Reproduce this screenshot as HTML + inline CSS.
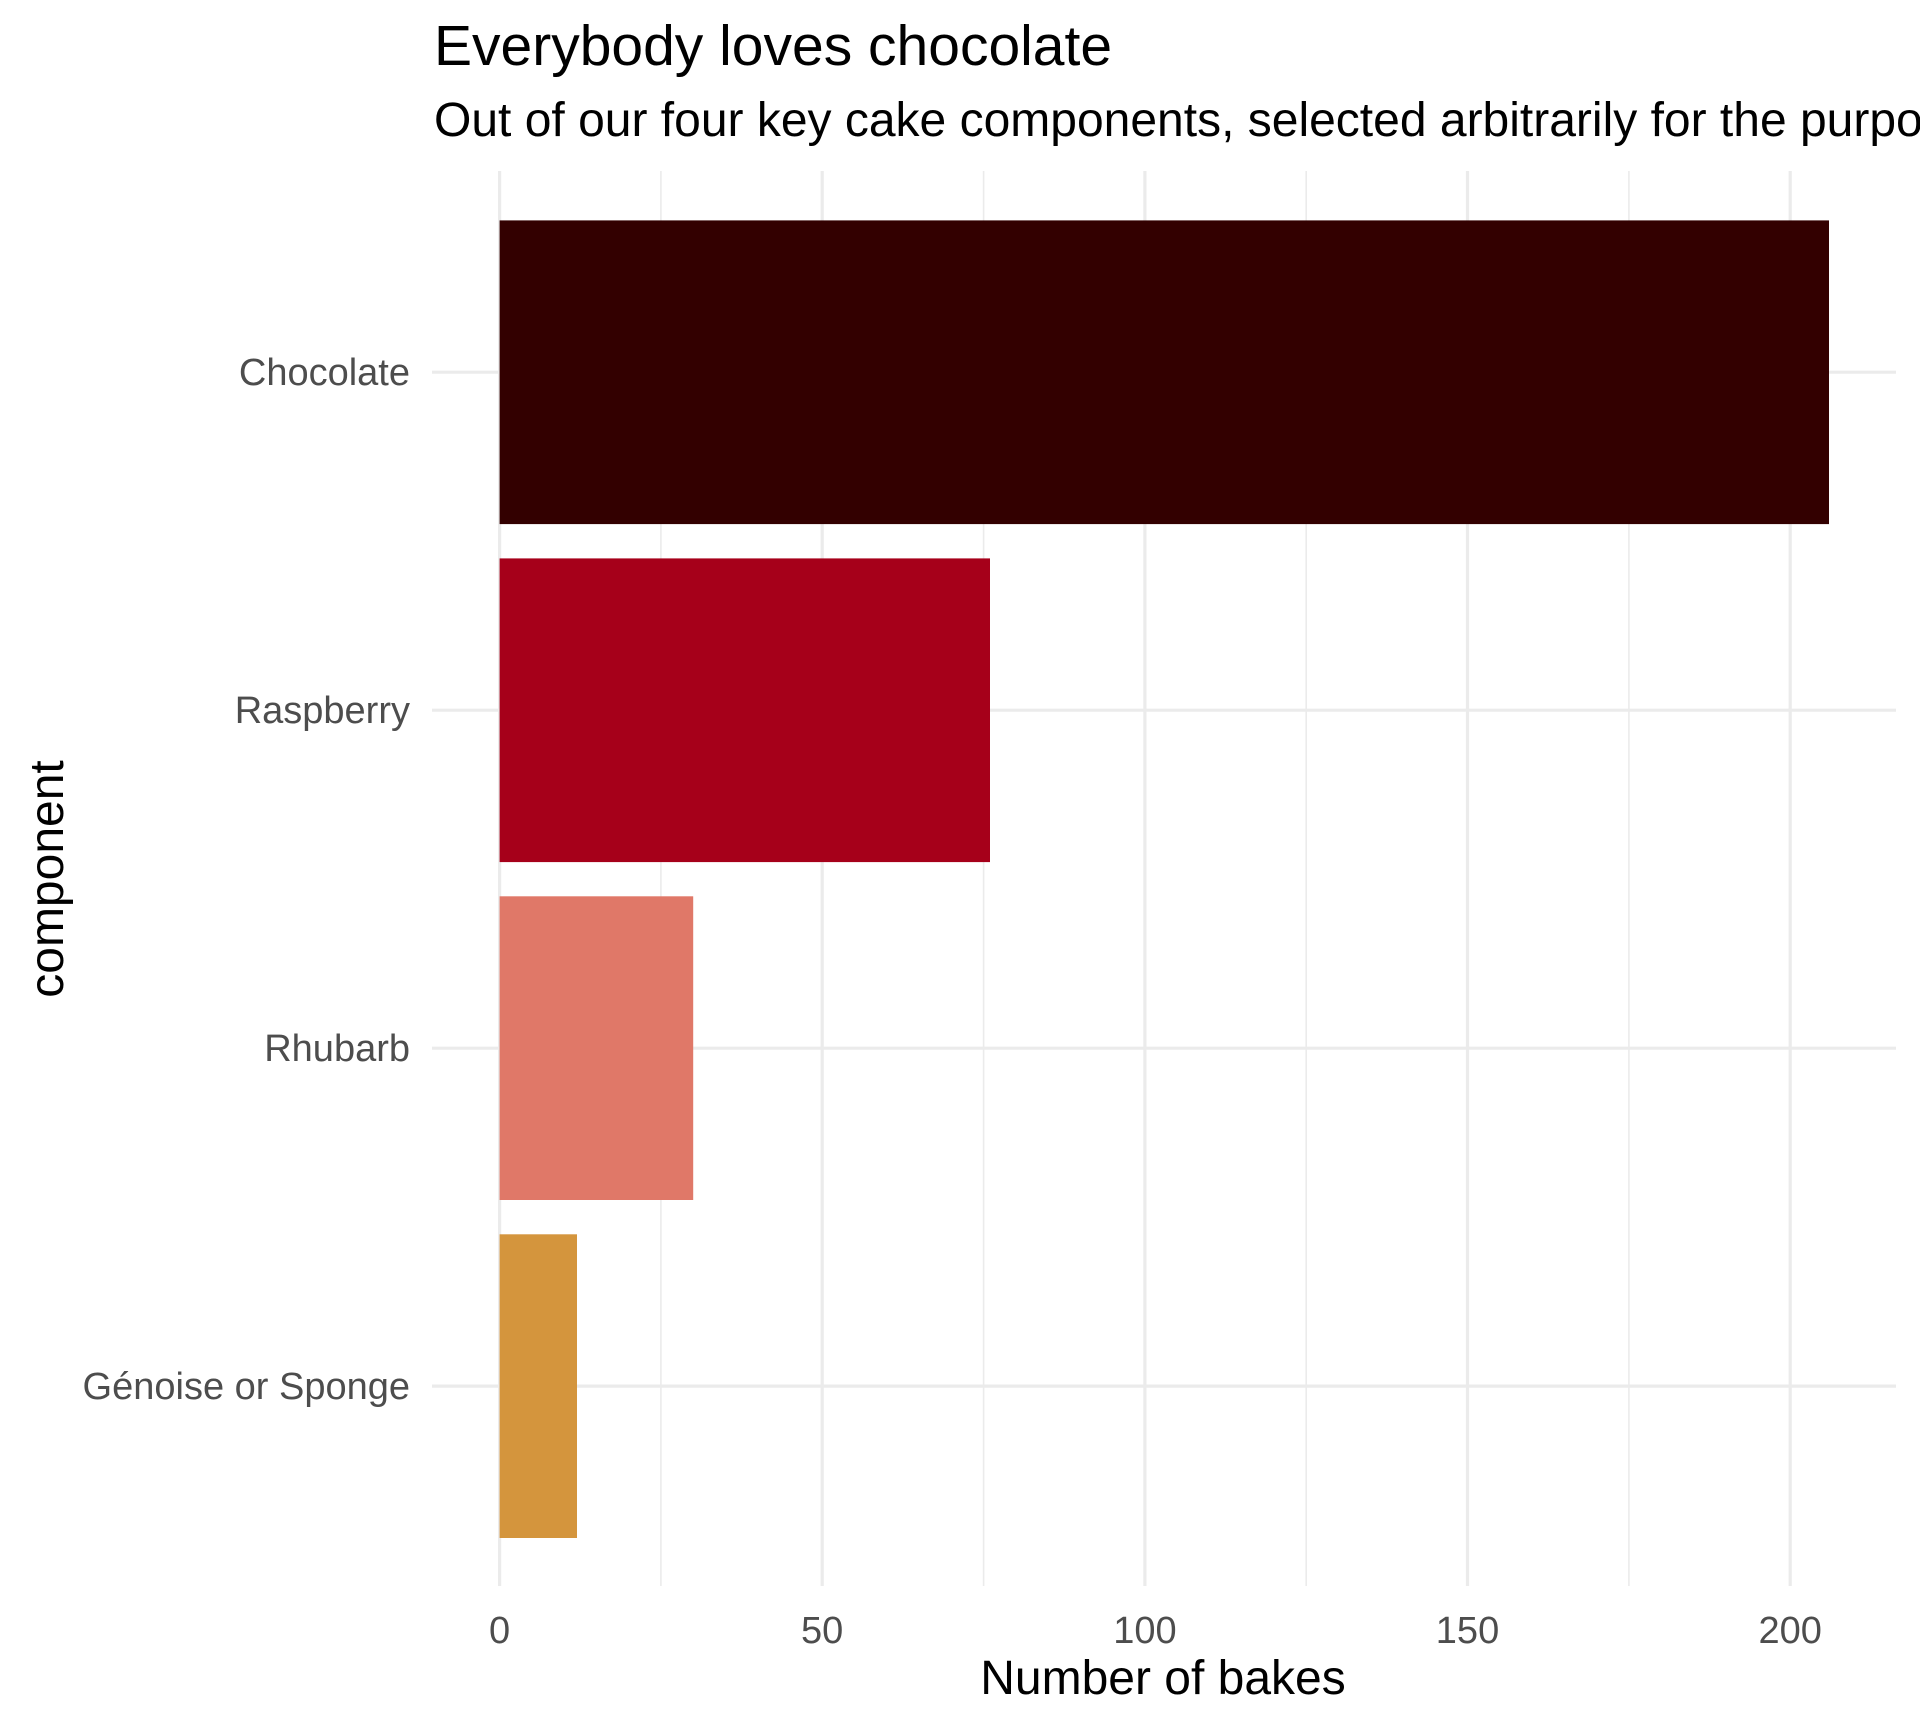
<!DOCTYPE html>
<html><head><meta charset="utf-8"><style>html,body{margin:0;padding:0;background:#fff;overflow:hidden}</style></head>
<body>
<svg width="1920" height="1728" xmlns="http://www.w3.org/2000/svg" font-family="Liberation Sans, Arial, sans-serif">
<rect width="1920" height="1728" fill="#fff"/>
<g stroke="#ebebeb" stroke-width="1.6">
<line x1="660.9" y1="171" x2="660.9" y2="1586"/>
<line x1="983.6" y1="171" x2="983.6" y2="1586"/>
<line x1="1306.2" y1="171" x2="1306.2" y2="1586"/>
<line x1="1628.9" y1="171" x2="1628.9" y2="1586"/>
</g>
<g stroke="#ebebeb" stroke-width="3.2">
<line x1="499.6" y1="171" x2="499.6" y2="1586"/>
<line x1="822.2" y1="171" x2="822.2" y2="1586"/>
<line x1="1144.9" y1="171" x2="1144.9" y2="1586"/>
<line x1="1467.5" y1="171" x2="1467.5" y2="1586"/>
<line x1="1790.2" y1="171" x2="1790.2" y2="1586"/>
<line x1="432" y1="372.2" x2="1896" y2="372.2"/>
<line x1="432" y1="710.2" x2="1896" y2="710.2"/>
<line x1="432" y1="1048.2" x2="1896" y2="1048.2"/>
<line x1="432" y1="1386.1" x2="1896" y2="1386.1"/>
</g>
<rect x="499.6" y="220.4" width="1329.4" height="303.7" fill="#330000"/>
<rect x="499.6" y="558.4" width="490.4" height="303.7" fill="#a6001a"/>
<rect x="499.6" y="896.3" width="193.6" height="303.7" fill="#e07868"/>
<rect x="499.6" y="1234.3" width="77.4" height="303.7" fill="#d4953d"/>
<g font-size="38" fill="#4d4d4d" text-anchor="end">
<text x="410" y="385">Chocolate</text>
<text x="410" y="723">Raspberry</text>
<text x="410" y="1061">Rhubarb</text>
<text x="410" y="1399">Génoise or Sponge</text>
</g>
<g font-size="38" fill="#4d4d4d" text-anchor="middle">
<text x="499.6" y="1643">0</text>
<text x="822.2" y="1643">50</text>
<text x="1144.9" y="1643">100</text>
<text x="1467.5" y="1643">150</text>
<text x="1790.2" y="1643">200</text>
</g>
<text x="1163" y="1694" font-size="48" text-anchor="middle" fill="#000">Number of bakes</text>
<text transform="translate(63,879) rotate(-90)" font-size="48" text-anchor="middle" fill="#000">component</text>
<text x="434" y="65" font-size="57" fill="#000">Everybody loves chocolate</text>
<text x="434" y="136" font-size="48" fill="#000">Out of our four key cake components, selected arbitrarily for the purposes of this chart</text>
</svg>
</body></html>
